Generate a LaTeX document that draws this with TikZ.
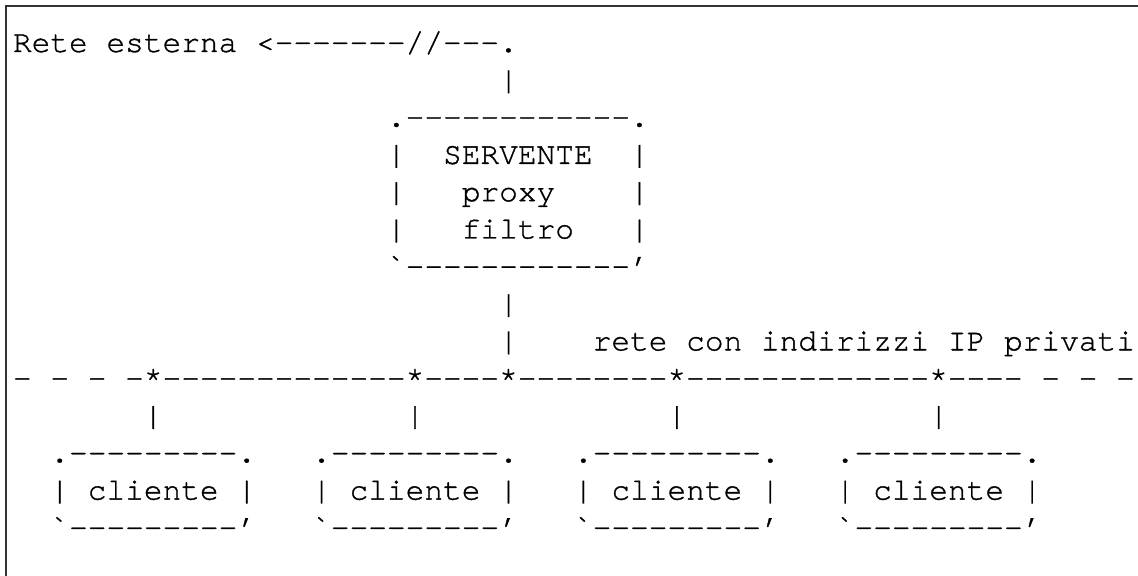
\documentclass[tikz,border=0pt]{standalone}
\usepackage{fontspec}
\newfontfamily\asciifont[Ligatures=NoCommon, FakeBold=1]{TeX Gyre Cursor}
% one character cell of the text grid: column, row
\newcommand\cell[4]{\node[ascii] (#1) at ({13+(#2-1)*18.7},{52+(#3-1)*37.3}) {#4};}
\begin{document}
\begin{tikzpicture}[x=0.5pt, y=-0.5pt,
    ascii/.style={inner sep=0pt, outer sep=0pt, anchor=base west, font=\asciifont\fontsize{15.58pt}{18pt}\selectfont},
    frame/.style={line width=1pt, black!80}]
    \useasboundingbox (0,0) rectangle (1138,576);
    \draw[frame] (6,576) -- (6,6) -- (1138,6);
    % external link and server
    \cell{ext}{1}{1}{Rete esterna <-------//---.}
    \cell{extup}{27}{2}{|}
    \cell{srvtop}{21}{3}{.------------.}
    \cell{srvla}{21}{4}{|}
    \cell{srv}{24}{4}{SERVENTE}
    \cell{srvra}{34}{4}{|}
    \cell{srvlb}{21}{5}{|}
    \cell{proxy}{25}{5}{proxy}
    \cell{srvrb}{34}{5}{|}
    \cell{srvlc}{21}{6}{|}
    \cell{filtro}{25}{6}{filtro}
    \cell{srvrc}{34}{6}{|}
    \cell{srvbot}{21}{7}{`------------’}
    \cell{srvdowna}{27}{8}{|}
    \cell{srvdownb}{27}{9}{|}
    \cell{lan}{32}{9}{rete con indirizzi IP privati}
    % private network
    \cell{bus}{1}{10}{- - - -*-------------*----*--------*-------------*---- - - -}
    \foreach \c/\n in {3/1, 17/2, 31/3, 45/4} {
        \cell{drop\n}{\c+5}{11}{|}
        \cell{clitop\n}{\c}{12}{.---------.}
        \cell{cli\n}{\c}{13}{| cliente |}
        \cell{clibot\n}{\c}{14}{`---------’}
    }
\end{tikzpicture}
\end{document}
